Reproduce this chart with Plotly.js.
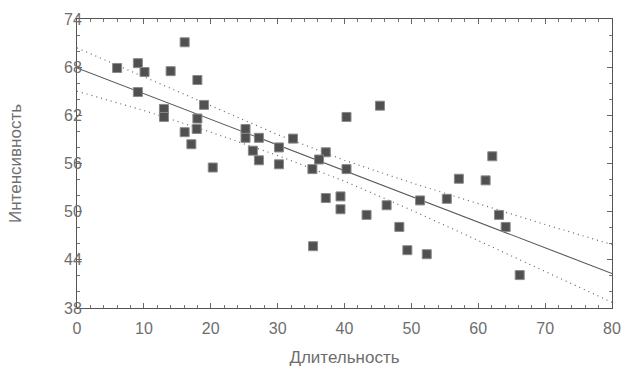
<!DOCTYPE html>
<html>
<head>
<meta charset="utf-8">
<script src="https://cdn.plot.ly/plotly-3.0.1.min.js"></script>
<style>html,body{margin:0;padding:0;background:#fff;}#chart{width:624px;height:369px;}</style>
</head>
<body>
<div id="chart"></div>
<script>
// Observed points: duration (x) vs intensity (y)
const durationX = [6.0, 9.1, 10.1, 9.1, 16.1, 14.0, 18.0, 19.0, 13.0, 13.0, 18.0, 16.1, 17.9, 17.1,
  25.2, 25.2, 27.2, 26.3, 20.3, 27.2, 45.3, 40.3, 32.3, 30.2, 37.2, 30.2, 36.2, 35.2, 40.3,
  37.2, 39.4, 39.4, 43.3, 46.3, 51.3, 48.2, 35.3, 49.4, 52.3, 62.1, 57.1, 61.1, 55.3, 63.1, 64.1, 66.2];
const intensityY = [67.9, 68.5, 67.4, 64.9, 71.1, 67.5, 66.4, 63.3, 62.8, 61.8, 61.6, 59.9, 60.3, 58.4,
  60.3, 59.2, 59.2, 57.6, 55.5, 56.4, 63.2, 61.8, 59.1, 58.0, 57.4, 55.9, 56.5, 55.3, 55.3,
  51.7, 51.9, 50.3, 49.6, 50.8, 51.4, 48.1, 45.7, 45.2, 44.7, 56.9, 54.1, 53.9, 51.6, 49.6, 48.1, 42.1];

// Regression line and confidence bands
const fitX = [0, 10, 20, 30, 40, 50, 60, 70, 80];
const fitY = [67.9, 64.7, 61.5, 58.3, 55.1, 51.9, 48.7, 45.5, 42.3];
const upperY = [70.4, 66.8, 63.1, 59.6, 56.4, 53.6, 51.0, 48.4, 45.9];
const lowerY = [65.0, 62.6, 59.9, 57.0, 53.8, 50.2, 46.4, 42.6, 38.7];

const xTicks = [0, 10, 20, 30, 40, 50, 60, 70, 80];
const yTicks = [38, 44, 50, 56, 62, 68, 74];

const xTitle = 'Длительность';
const yTitle = 'Интенсивность';

const tickFont = {family: 'Liberation Sans, Arial, sans-serif', size: 16, color: '#6e6e6e'};
const titleFont = {family: 'Liberation Sans, Arial, sans-serif', size: 17, color: '#6e6e6e'};

const traces = [
  {x: fitX, y: upperY, mode: 'lines', line: {color: '#666', width: 1.2, dash: '1px,4px'}, hoverinfo: 'skip'},
  {x: fitX, y: lowerY, mode: 'lines', line: {color: '#666', width: 1.2, dash: '1px,4px'}, hoverinfo: 'skip'},
  {x: fitX, y: fitY, mode: 'lines', line: {color: '#5a5a5a', width: 1.1}, hoverinfo: 'skip'},
  {x: durationX, y: intensityY, mode: 'markers',
   marker: {symbol: 'square', size: 9, color: '#505050', line: {color: '#8a8a8a', width: 1}}}
];

const axisCommon = {
  showgrid: false, zeroline: false, showline: true, linecolor: '#555', linewidth: 1,
  mirror: 'ticks', ticks: 'inside', ticklen: 5, tickcolor: '#666', tickwidth: 1,
  tickmode: 'array'
};

const layout = {
  width: 624, height: 369,
  margin: {l: 77, r: 12, t: 19, b: 61},
  paper_bgcolor: '#ffffff', plot_bgcolor: '#ffffff',
  showlegend: false,
  xaxis: Object.assign({}, axisCommon, {
    range: [0, 80], tickvals: xTicks, ticktext: xTicks.map(String),
    tickfont: tickFont, ticklabelstandoff: 6,
    minor: {ticks: 'inside', dtick: 2, ticklen: 3, tickcolor: '#777'},
    title: {text: xTitle, font: titleFont, standoff: 14}
  }),
  yaxis: Object.assign({}, axisCommon, {
    range: [38, 74], tickvals: yTicks, ticktext: yTicks.map(String),
    tickfont: tickFont, ticklabelstandoff: -9,
    minor: {ticks: 'inside', dtick: 2, ticklen: 3, tickcolor: '#777'},
    title: {text: yTitle, font: titleFont, standoff: 38}
  })
};

Plotly.newPlot('chart', traces, layout, {staticPlot: true, displayModeBar: false});
</script>
</body>
</html>
